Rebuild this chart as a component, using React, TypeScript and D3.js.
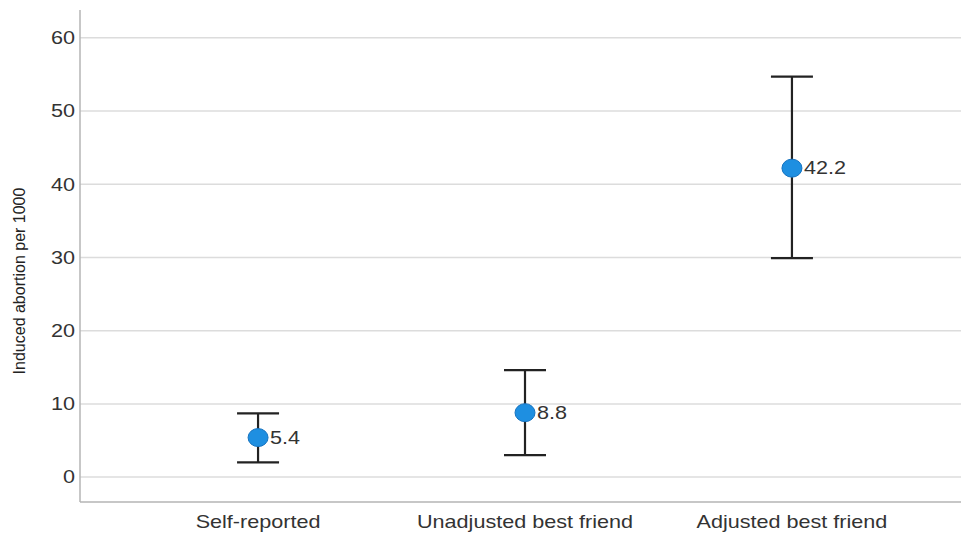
import { scaleLinear, scalePoint } from 'd3';
import React from 'react';

const categories = ['Self-reported', 'Unadjusted best friend', 'Adjusted best friend'];
const estimates = [5.4, 8.8, 42.2];
const lowerBounds = [2.0, 3.0, 29.9];
const upperBounds = [8.7, 14.6, 54.7];
const yTicks = [0, 10, 20, 30, 40, 50, 60];

const width = 961;
const height = 535;
const margin = { left: 80, top: 10, right: -9, bottom: 33 };
const font = 'Liberation Sans, Arial, sans-serif';
// the source image is stretched a bit horizontally
const stretch = 1.2;

const App: React.FC = () => {
  const xScale = scalePoint<string>()
    .domain(categories)
    .range([margin.left, width - margin.right])
    .padding(0.667);
  const yScale = scaleLinear()
    .domain([-3.4, 63.8])
    .range([height - margin.bottom, margin.top]);

  const capHalf = 21;

  return (
    <svg
      width={width}
      height={height}
      style={{ position: 'absolute', left: 0, top: 0, background: '#fff' }}
    >
      {/* grid */}
      {yTicks.map((t) => (
        <line
          key={'g' + t}
          x1={margin.left}
          x2={width}
          y1={yScale(t)}
          y2={yScale(t)}
          stroke="#dcdcdc"
          strokeWidth={1.5}
        />
      ))}
      {/* axes */}
      <line
        x1={margin.left}
        x2={margin.left}
        y1={margin.top}
        y2={height - margin.bottom}
        stroke="#b4b4b4"
        strokeWidth={1.5}
      />
      <line
        x1={margin.left}
        x2={width}
        y1={height - margin.bottom}
        y2={height - margin.bottom}
        stroke="#b4b4b4"
        strokeWidth={1.5}
      />
      {yTicks.map((t) => (
        <text
          key={'t' + t}
          transform={`translate(${margin.left - 5}, ${yScale(t)}) scale(${stretch}, 1)`}
          dy="0.35em"
          textAnchor="end"
          fontFamily={font}
          fontSize={18}
          fill="#333"
        >
          {t}
        </text>
      ))}
      <text
        transform={`translate(25, 281) rotate(-90)`}
        textAnchor="middle"
        fontFamily={font}
        fontSize={16}
        fill="#222"
      >
        Induced abortion per 1000
      </text>
      {categories.map((c) => (
        <text
          key={'x' + c}
          transform={`translate(${xScale(c)}, ${height - 7}) scale(${stretch}, 1)`}
          textAnchor="middle"
          fontFamily={font}
          fontSize={18}
          fill="#333"
        >
          {c}
        </text>
      ))}
      {/* error bars */}
      {categories.map((c, i) => {
        const x = xScale(c) as number;
        return (
          <g key={'e' + c} stroke="#222" strokeWidth={2.2}>
            <line x1={x} x2={x} y1={yScale(lowerBounds[i])} y2={yScale(upperBounds[i])} />
            <line
              x1={x - capHalf}
              x2={x + capHalf}
              y1={yScale(upperBounds[i])}
              y2={yScale(upperBounds[i])}
            />
            <line
              x1={x - capHalf}
              x2={x + capHalf}
              y1={yScale(lowerBounds[i])}
              y2={yScale(lowerBounds[i])}
            />
          </g>
        );
      })}
      {categories.map((c, i) => {
        const x = xScale(c) as number;
        const y = yScale(estimates[i]);
        return (
          <g key={'p' + c}>
            <ellipse cx={x} cy={y} rx={10} ry={9} fill="#1e8fe1" stroke="#1673c0" strokeWidth={1} />
            <text
              transform={`translate(${x + 12}, ${y}) scale(${stretch}, 1)`}
              dy="0.35em"
              fontFamily={font}
              fontSize={18}
              fill="#333"
            >
              {estimates[i].toFixed(1)}
            </text>
          </g>
        );
      })}
    </svg>
  );
};

export default App;
